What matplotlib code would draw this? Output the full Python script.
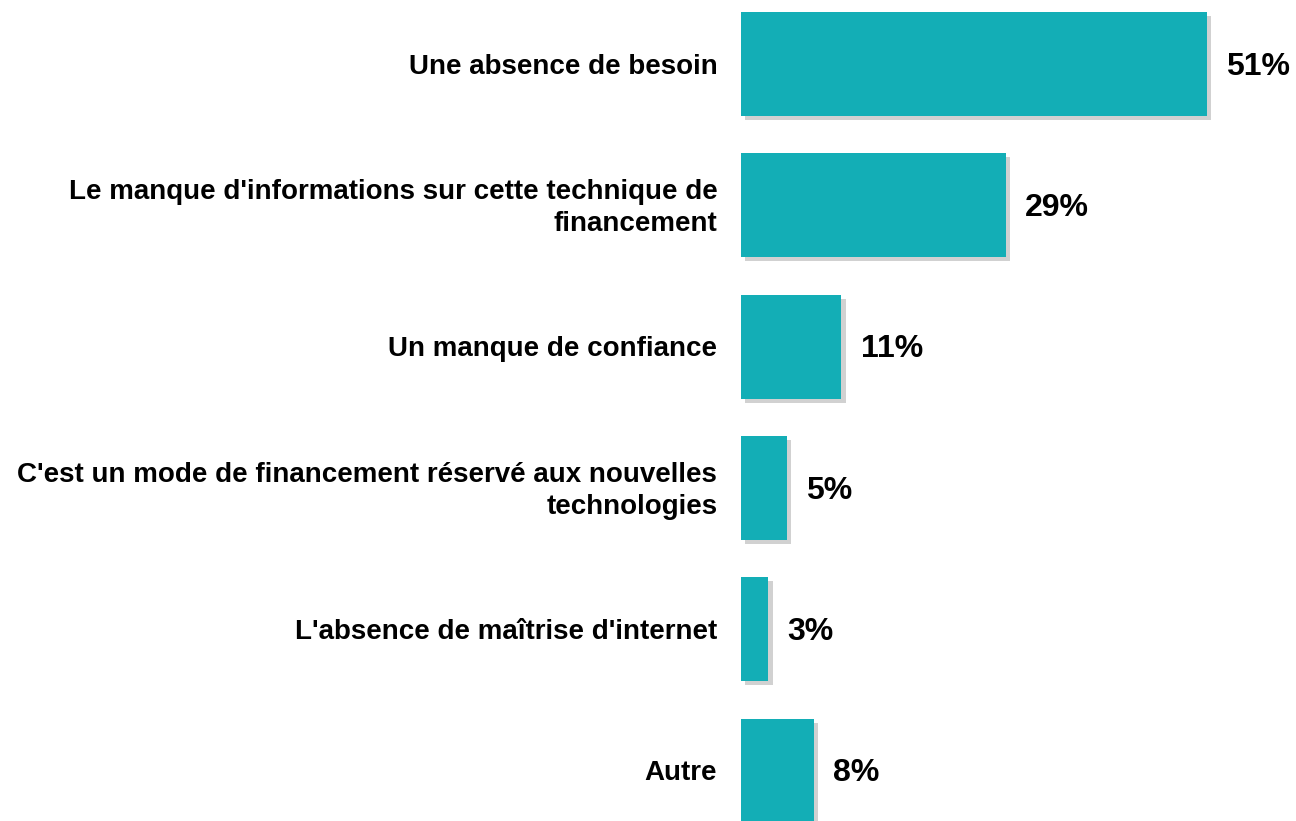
import matplotlib
matplotlib.use("Agg")
import matplotlib.pyplot as plt
import matplotlib.patheffects as pe

categories = [
    "Une absence de besoin",
    "Le manque d'informations sur cette technique de\nfinancement",
    "Un manque de confiance",
    "C'est un mode de financement réservé aux nouvelles\ntechnologies",
    "L'absence de maîtrise d'internet",
    "Autre",
]
values = [51, 29, 11, 5, 3, 8]
value_labels = ["51%", "29%", "11%", "5%", "3%", "8%"]

plt.rcParams['font.family'] = ['Liberation Sans', 'DejaVu Sans']

W, H = 1296, 821
fig = plt.figure(figsize=(W / 100, H / 100), dpi=100)
ax = fig.add_axes([741 / W, 0, 548 / W, 1])
ax.set_xlim(0, 60)
ax.set_ylim(5.357, -0.453)
ax.axis('off')

ypos = list(range(len(values)))
bars = ax.barh(ypos, values, height=0.736, color='#13AEB6', zorder=2)
for b in bars:
    b.set_path_effects([pe.SimplePatchShadow(offset=(3, -3), shadow_rgbFace='#999999', alpha=0.45), pe.Normal()])

for y, v, lab, cat in zip(ypos, values, value_labels, categories):
    ax.text(v + 2.1, y + 0.02, lab, ha='left', va='center', fontsize=23, fontweight='bold', color='black')
    ax.text(-2.6, y + 0.02, cat, ha='right', va='center', fontsize=20, fontweight='bold', color='black',
            linespacing=1.28, multialignment='right')

fig.savefig('out.png', dpi=100)
